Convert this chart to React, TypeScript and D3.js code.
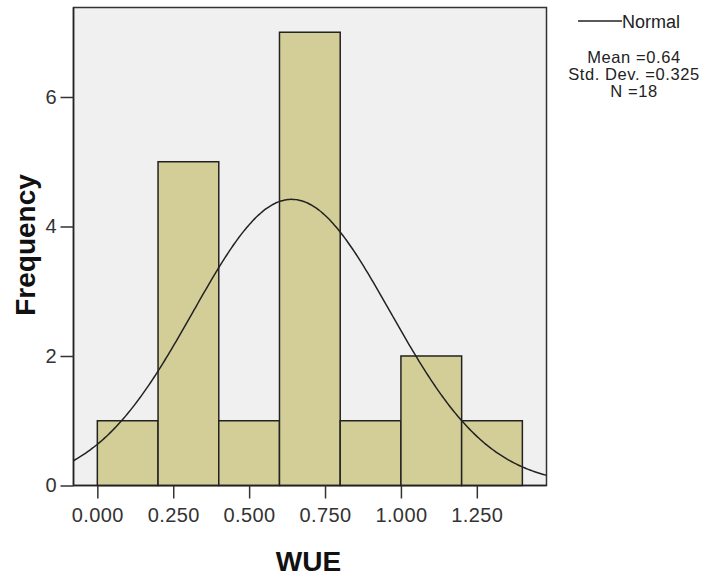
import React, { useRef, useEffect } from 'react';
import * as d3 from 'd3';

// histogram bins of WUE (width 0.2)
const binStarts = [0.0, 0.2, 0.4, 0.6, 0.8, 1.0, 1.2];
const binCounts = [1, 5, 1, 7, 1, 2, 1];
const binWidth = 0.2;

const xTicks = [0, 0.25, 0.5, 0.75, 1.0, 1.25];
const yTicks = [0, 2, 4, 6];

const mean = 0.64;
const stdDev = 0.325;
const nObs = 18;
const statLines = ['Mean =0.64', 'Std. Dev. =0.325', 'N =18'];

const App = () => {
  const svgRef = useRef<SVGSVGElement>(null);

  useEffect(() => {
    const svg = d3.select(svgRef.current);
    svg.selectAll('*').remove();

    const width = 708;
    const height = 579;
    const plot = { left: 73.5, right: 546.5, top: 7.5, bottom: 485.5 };
    const font = 'Arial, "Liberation Sans", sans-serif';

    const x = d3.scaleLinear().domain([-0.0785, 1.4795]).range([plot.left, plot.right]);
    const y = d3.scaleLinear().domain([0, 7.382]).range([plot.bottom, plot.top]);

    svg.attr('width', width).attr('height', height);
    svg.append('rect').attr('width', width).attr('height', height).attr('fill', '#ffffff');

    // plot background
    svg.append('rect')
      .attr('x', plot.left).attr('y', plot.top)
      .attr('width', plot.right - plot.left).attr('height', plot.bottom - plot.top)
      .attr('fill', '#f0f0f0')
      .attr('stroke', '#333').attr('stroke-width', 1.5);

    // bars
    svg.append('g').selectAll('rect')
      .data(binStarts.map((s, i) => ({ s, c: binCounts[i] })))
      .enter()
      .append('rect')
      .attr('x', d => x(d.s))
      .attr('y', d => y(d.c))
      .attr('width', d => x(d.s + binWidth) - x(d.s))
      .attr('height', d => y(0) - y(d.c))
      .attr('fill', '#d3ce97')
      .attr('stroke', '#222')
      .attr('stroke-width', 1.5);

    // normal curve
    const scale = nObs * binWidth / (stdDev * Math.sqrt(2 * Math.PI));
    const curvePts = d3.range(0, 301).map(i => {
      const v = x.domain()[0] + (x.domain()[1] - x.domain()[0]) * i / 300;
      const z = (v - mean) / stdDev;
      return [v, scale * Math.exp(-z * z / 2)] as [number, number];
    });
    svg.append('path')
      .datum(curvePts)
      .attr('d', d3.line<[number, number]>().x(d => x(d[0])).y(d => y(d[1])).curve(d3.curveBasis))
      .attr('fill', 'none')
      .attr('stroke', '#222')
      .attr('stroke-width', 1.5);

    // axes lines
    svg.append('line')
      .attr('x1', plot.left).attr('x2', plot.left).attr('y1', plot.top).attr('y2', plot.bottom)
      .attr('stroke', '#222').attr('stroke-width', 1.5);
    svg.append('line')
      .attr('x1', plot.left).attr('x2', plot.right).attr('y1', plot.bottom).attr('y2', plot.bottom)
      .attr('stroke', '#222').attr('stroke-width', 1.5);

    // y axis
    const yAxis = svg.append('g')
      .attr('transform', `translate(${plot.left},0)`)
      .call(d3.axisLeft(y).tickValues(yTicks).tickSize(13).tickPadding(4).tickFormat(d3.format('d')));
    yAxis.select('.domain').remove();
    yAxis.selectAll('line').attr('stroke', '#333').attr('stroke-width', 1.5);
    yAxis.selectAll('text').attr('font-family', font).attr('font-size', 20).attr('fill', '#333');

    // x axis
    const xAxis = svg.append('g')
      .attr('transform', `translate(0,${plot.bottom})`)
      .call(d3.axisBottom(x).tickValues(xTicks).tickSize(13).tickPadding(9).tickFormat(d3.format('.3f')));
    xAxis.select('.domain').remove();
    xAxis.selectAll('line').attr('stroke', '#333').attr('stroke-width', 1.5);
    xAxis.selectAll('text').attr('font-family', font).attr('font-size', 20).attr('fill', '#333')
      .attr('letter-spacing', 0.4);

    // axis titles
    svg.append('text')
      .attr('transform', `translate(35,245) rotate(-90)`)
      .attr('text-anchor', 'middle')
      .attr('font-family', font).attr('font-size', 28).attr('font-weight', 'bold')
      .attr('fill', '#111')
      .text('Frequency');
    svg.append('text')
      .attr('x', 308.5).attr('y', 571)
      .attr('text-anchor', 'middle')
      .attr('font-family', font).attr('font-size', 28).attr('font-weight', 'bold')
      .attr('fill', '#111')
      .text('WUE');

    // legend
    svg.append('line')
      .attr('x1', 578).attr('x2', 622).attr('y1', 21).attr('y2', 21)
      .attr('stroke', '#222').attr('stroke-width', 1.5);
    svg.append('text')
      .attr('x', 622).attr('y', 28)
      .attr('font-family', font).attr('font-size', 18).attr('fill', '#222')
      .text('Normal');
    svg.append('g').selectAll('text')
      .data(statLines)
      .enter()
      .append('text')
      .attr('x', 634)
      .attr('y', (_, i) => 63 + i * 17)
      .attr('text-anchor', 'middle')
      .attr('font-family', font).attr('font-size', 16.5).attr('fill', '#222')
      .attr('letter-spacing', 0.6)
      .text(d => d);
  }, []);

  return <svg ref={svgRef} style={{ position: 'absolute', left: 0, top: 0 }} width="708" height="579"></svg>;
};

export default App;
